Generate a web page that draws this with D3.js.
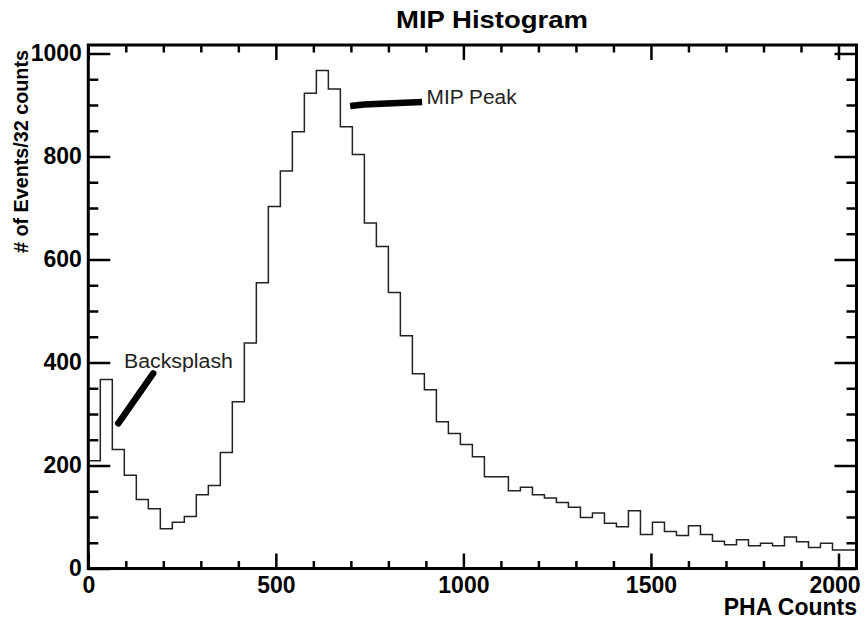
<!DOCTYPE html>
<html>
<head>
<meta charset="utf-8">
<script src="https://cdn.jsdelivr.net/npm/d3@7"></script>
<style>
  body { margin: 0; background: #fff; }
  svg { display: block; font-family: "Liberation Sans", Arial, Helvetica, sans-serif; }
</style>
</head>
<body>
<svg id="chart"></svg>
<script>
// events per 32-count bin, 0..2048
const binWidth = 32;
const counts = [
  209, 367, 231, 181, 134, 116, 77, 90, 101, 143, 161, 225, 324, 438, 555, 703,
  772, 848, 923, 967, 931, 858, 804, 671, 625, 536, 452, 378, 347, 285, 262, 241,
  217, 178, 178, 151, 158, 143, 137, 128, 119, 99, 108, 88, 81, 112, 66, 90,
  72, 64, 83, 66, 53, 46, 56, 44, 49, 44, 61, 52, 41, 49, 36, 36
];
const xMajorTicks = [0, 500, 1000, 1500, 2000];
const yMajorTicks = [0, 200, 400, 600, 800, 1000];
const xMinorStep = 100;
const yMinorStep = 50;
const xMax = 2048;
const yMax = 1016.5;

// hand drawn annotations, in data units
const backsplashLine = [[80, 282], [173, 379]];
const backsplashLabel = { text: "Backsplash", x: 95, y: 389, len: 109 };
const peakLine = [[698, 898], [735, 901], [795, 903], [890, 906]];
const peakLabel = { text: "MIP Peak", x: 902, y: 902, len: 90 };

const W = 868, H = 625;
const svg = d3.select("#chart").attr("width", W).attr("height", H);
svg.append("rect").attr("width", W).attr("height", H).attr("fill", "#fff");

const plotL = 88.3, plotR = 856.5, plotT = 45, plotB = 568.5;

const x = d3.scaleLinear().domain([0, xMax]).range([plotL, plotR]);
const y = d3.scaleLinear().domain([0, yMax]).range([plotB, plotT]);

// histogram as a step line
const pts = counts.map((c, i) => [i * binWidth, c]);
pts.push([counts.length * binWidth, counts[counts.length - 1]]);

const step = d3.line()
  .x(d => x(d[0]))
  .y(d => y(d[1]))
  .curve(d3.curveStepAfter);

svg.append("path")
  .datum(pts)
  .attr("fill", "none")
  .attr("stroke", "#222")
  .attr("stroke-width", 1.5)
  .attr("d", step);

// axes
const xMinor = d3.range(0, xMax, xMinorStep).filter(v => v % 500 !== 0);
const yMinor = d3.range(0, yMax, yMinorStep).filter(v => v % 200 !== 0);
const fmt = d3.format("d");

function styleAxis(g) {
  g.select(".domain").remove();
  g.selectAll(".tick line").attr("stroke", "#000").attr("stroke-width", 2.5);
  g.attr("font-size", 23)
    .attr("font-weight", "bold")
    .attr("font-family", "'Liberation Sans', Arial, Helvetica, sans-serif");
  g.selectAll(".tick text").attr("fill", "#000");
}

svg.append("g")
  .attr("transform", `translate(0,${plotB})`)
  .call(d3.axisBottom(x).tickValues(xMajorTicks).tickFormat(fmt).tickSizeInner(-15).tickSizeOuter(0).tickPadding(8))
  .call(styleAxis)
  .call(g => g.selectAll(".tick text").filter(d => d === 2000).attr("dx", -4));
svg.append("g")
  .attr("transform", `translate(0,${plotB})`)
  .call(d3.axisBottom(x).tickValues(xMinor).tickSizeInner(-7.5).tickSizeOuter(0).tickFormat(""))
  .call(styleAxis);
svg.append("g")
  .attr("transform", `translate(0,${plotT})`)
  .call(d3.axisTop(x).tickValues(xMajorTicks).tickSizeInner(-15).tickSizeOuter(0).tickFormat(""))
  .call(styleAxis);
svg.append("g")
  .attr("transform", `translate(0,${plotT})`)
  .call(d3.axisTop(x).tickValues(xMinor).tickSizeInner(-7.5).tickSizeOuter(0).tickFormat(""))
  .call(styleAxis);

svg.append("g")
  .attr("transform", `translate(${plotL},0)`)
  .call(d3.axisLeft(y).tickValues(yMajorTicks).tickFormat(fmt).tickSizeInner(-22).tickSizeOuter(0).tickPadding(6.5))
  .call(styleAxis);
svg.append("g")
  .attr("transform", `translate(${plotL},0)`)
  .call(d3.axisLeft(y).tickValues(yMinor).tickSizeInner(-10).tickSizeOuter(0).tickFormat(""))
  .call(styleAxis);
svg.append("g")
  .attr("transform", `translate(${plotR},0)`)
  .call(d3.axisRight(y).tickValues(yMajorTicks).tickSizeInner(-22).tickSizeOuter(0).tickFormat(""))
  .call(styleAxis);
svg.append("g")
  .attr("transform", `translate(${plotR},0)`)
  .call(d3.axisRight(y).tickValues(yMinor).tickSizeInner(-10).tickSizeOuter(0).tickFormat(""))
  .call(styleAxis);

// frame
svg.append("rect")
  .attr("x", plotL).attr("y", plotT)
  .attr("width", plotR - plotL).attr("height", plotB - plotT)
  .attr("fill", "none")
  .attr("stroke", "#000")
  .attr("stroke-width", 3);

// titles
svg.append("text")
  .attr("x", 492).attr("y", 28)
  .attr("text-anchor", "middle")
  .attr("font-size", 24)
  .attr("font-weight", "bold")
  .attr("textLength", 192)
  .attr("lengthAdjust", "spacingAndGlyphs")
  .text("MIP Histogram");

svg.append("text")
  .attr("transform", "translate(28,151.5) rotate(-90)")
  .attr("text-anchor", "middle")
  .attr("font-size", 21)
  .attr("font-weight", "bold")
  .attr("textLength", 203)
  .attr("lengthAdjust", "spacingAndGlyphs")
  .text("# of Events/32 counts");

svg.append("text")
  .attr("x", 857).attr("y", 614.5)
  .attr("text-anchor", "end")
  .attr("font-size", 23)
  .attr("font-weight", "bold")
  .text("PHA Counts");

// annotations
const ann = d3.line().x(d => x(d[0])).y(d => y(d[1]));

svg.append("path")
  .datum(backsplashLine)
  .attr("fill", "none")
  .attr("stroke", "#000")
  .attr("stroke-width", 6.5)
  .attr("stroke-linecap", "round")
  .attr("d", ann);

svg.append("path")
  .datum(peakLine)
  .attr("fill", "none")
  .attr("stroke", "#000")
  .attr("stroke-width", 6.5)
  .attr("stroke-linecap", "butt")
  .attr("d", ann);

for (const lab of [backsplashLabel, peakLabel]) {
  svg.append("text")
    .attr("x", x(lab.x)).attr("y", y(lab.y))
    .attr("font-size", 20)
    .attr("fill", "#222")
    .attr("textLength", lab.len)
    .attr("lengthAdjust", "spacingAndGlyphs")
    .text(lab.text);
}
</script>
</body>
</html>
